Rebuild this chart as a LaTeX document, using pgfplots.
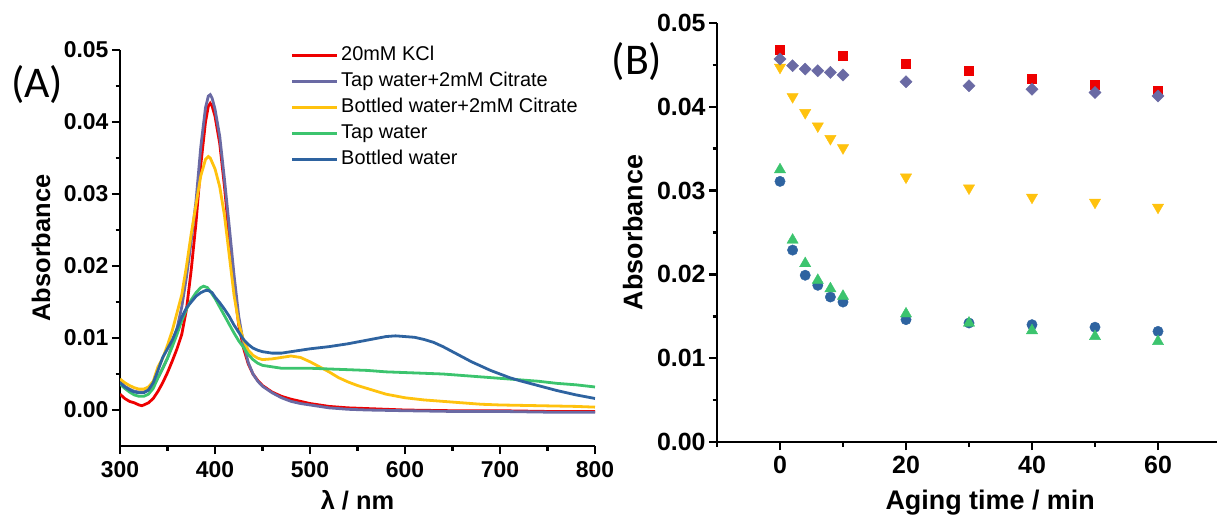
\documentclass[border=0pt]{standalone}
\usepackage{fontspec}
\setmainfont{Liberation Sans}
\newfontfamily\carlito{Carlito}
\usepackage{pgfplots}
\pgfplotsset{compat=1.18}
\definecolor{cred}{HTML}{EE0000}
\definecolor{cpurple}{HTML}{6A6AA4}
\definecolor{cyellow}{HTML}{FFC20E}
\definecolor{cgreen}{HTML}{3CC46E}
\definecolor{cblue}{HTML}{2E63A0}
\pgfplotsset{mystyle/.style={
  scale only axis,
  axis x line=bottom, axis y line=left,
  axis line style={-, line width=2.5bp, black},
  every outer x axis line/.append style={-},
  every outer y axis line/.append style={-},
  tick align=outside,
  major tick length=8bp, minor tick length=4.5bp,
  tick style={black, line width=2.5bp},
  /pgf/number format/assume math mode=true,
  scaled y ticks=false,
  yticklabel style={/pgf/number format/.cd, fixed, fixed zerofill, precision=2},
  ytick={0,0.01,0.02,0.03,0.04,0.05},
  minor y tick num=1,
}}
\begin{document}
\begin{tikzpicture}
\useasboundingbox (0,0) rectangle (1217bp,-515bp);
\begin{axis}[mystyle, at={(120bp,-446bp)}, anchor=south west,
  width=475bp, height=396bp,
  tick label style={font=\fontsize{23}{25}\selectfont\bfseries},
  xticklabel style={yshift=-4bp},
  label style={font=\fontsize{25.5}{28}\selectfont\bfseries},
  xmin=300, xmax=800, ymin=-0.005, ymax=0.05,
  xtick={300,400,500,600,700,800}, minor x tick num=1,
  xlabel={λ / nm}, ylabel={Absorbance},
  xlabel style={at={(axis description cs:0.5,-0.136)}, anchor=center},
  ylabel style={at={(axis description cs:-0.166,0.5)}, anchor=center},
  legend cell align=left,
  legend style={draw=none, fill=none, at={(axis description cs:0.359,1.019)}, anchor=north west,
    font=\fontsize{20}{24}\selectfont, inner sep=0pt,
    nodes={text height=15.5bp, text depth=5.5bp, inner sep=2.5bp}},
  legend image code/.code={\draw[#1, line width=3bp] (0bp,0bp) -- (45bp,0bp);},
  every axis plot/.append style={line width=2.8bp},
]
\addplot[cred] coordinates {
(300,0.0022)(305,0.0016)(310,0.0012)(315,0.0010)(320,0.0007)(323,0.0006)(325,0.0007)(330,0.0010)(335,0.0016)(340,0.0026)(345,0.0038)(350,0.0052)(355,0.0068)(360,0.0085)(365,0.0105)(370,0.0140)(375,0.0195)(380,0.0260)(385,0.0340)(390,0.0400)(393,0.0422)(395,0.0426)(397,0.0422)(400,0.0408)(405,0.0370)(410,0.0310)(415,0.0240)(420,0.0170)(425,0.0118)(430,0.0086)(435,0.0064)(440,0.0050)(445,0.0041)(450,0.0034)(460,0.0025)(470,0.0019)(480,0.0015)(490,0.0012)(500,0.0009)(520,0.0005)(540,0.0003)(560,0.0002)(600,0.0000)(650,-0.0001)(700,-0.0001)(750,-0.0002)(800,-0.0002)};
\addlegendentry{20mM KCl}
\addplot[cpurple] coordinates {
(300,0.0039)(305,0.0033)(310,0.0029)(315,0.0026)(320,0.0025)(325,0.0025)(330,0.0027)(335,0.0033)(340,0.0045)(345,0.0058)(350,0.0072)(355,0.0090)(360,0.0113)(365,0.0143)(370,0.0185)(375,0.0235)(380,0.0290)(385,0.0365)(390,0.0420)(393,0.0436)(395,0.0438)(397,0.0433)(400,0.0418)(405,0.0380)(410,0.0320)(415,0.0255)(420,0.0188)(425,0.0130)(430,0.0092)(435,0.0066)(440,0.0050)(445,0.0040)(450,0.0033)(460,0.0024)(470,0.0017)(480,0.0012)(490,0.0009)(500,0.0007)(520,0.0003)(540,0.0001)(560,0.0000)(600,-0.0001)(650,-0.0002)(700,-0.0002)(750,-0.0003)(800,-0.0003)};
\addlegendentry{Tap water+2mM Citrate}
\addplot[cyellow] coordinates {
(300,0.0043)(305,0.0038)(310,0.0034)(315,0.0031)(320,0.0029)(325,0.0029)(330,0.0032)(335,0.0040)(340,0.0060)(345,0.0072)(350,0.0090)(355,0.0110)(360,0.0135)(365,0.0160)(370,0.0200)(375,0.0245)(380,0.0285)(385,0.0325)(390,0.0348)(393,0.0352)(395,0.0350)(400,0.0335)(405,0.0310)(410,0.0270)(415,0.0215)(420,0.0160)(425,0.0120)(430,0.0097)(435,0.0083)(440,0.0076)(445,0.0072)(450,0.0070)(460,0.0071)(470,0.0073)(480,0.0075)(490,0.0073)(500,0.0067)(510,0.0060)(520,0.0053)(530,0.0045)(540,0.0039)(550,0.0034)(560,0.0030)(580,0.0022)(600,0.0017)(620,0.0014)(640,0.0012)(660,0.0010)(680,0.0008)(700,0.0007)(740,0.0006)(780,0.0005)(800,0.0004)};
\addlegendentry{Bottled water+2mM Citrate}
\addplot[cgreen] coordinates {
(300,0.0036)(305,0.0030)(310,0.0025)(315,0.0021)(320,0.0019)(325,0.0019)(330,0.0022)(335,0.0030)(340,0.0045)(345,0.0058)(350,0.0072)(355,0.0088)(360,0.0105)(365,0.0124)(370,0.0140)(375,0.0153)(380,0.0163)(385,0.0170)(388,0.0172)(392,0.0170)(395,0.0165)(400,0.0155)(405,0.0143)(410,0.0131)(415,0.0119)(420,0.0107)(425,0.0096)(430,0.0087)(435,0.0077)(440,0.0070)(445,0.0065)(450,0.0062)(460,0.0060)(470,0.0058)(480,0.0058)(500,0.0058)(520,0.0057)(540,0.0056)(560,0.0055)(580,0.0053)(600,0.0052)(620,0.0051)(640,0.0050)(660,0.0048)(680,0.0046)(700,0.0044)(720,0.0042)(740,0.0040)(760,0.0037)(780,0.0035)(800,0.0032)};
\addlegendentry{Tap water}
\addplot[cblue] coordinates {
(300,0.0038)(305,0.0032)(310,0.0028)(315,0.0025)(320,0.0024)(325,0.0024)(330,0.0028)(335,0.0038)(340,0.0055)(345,0.0073)(350,0.0085)(355,0.0097)(360,0.0113)(365,0.0129)(370,0.0142)(375,0.0150)(380,0.0158)(385,0.0163)(390,0.0166)(393,0.0166)(397,0.0163)(400,0.0157)(405,0.0149)(410,0.0140)(415,0.0130)(420,0.0118)(425,0.0108)(430,0.0098)(435,0.0091)(440,0.0086)(445,0.0083)(450,0.0081)(460,0.0079)(470,0.0079)(480,0.0081)(490,0.0083)(500,0.0085)(520,0.0088)(540,0.0092)(560,0.0097)(580,0.0102)(590,0.0103)(600,0.0102)(610,0.0101)(620,0.0098)(630,0.0094)(640,0.0088)(650,0.0081)(660,0.0074)(670,0.0067)(680,0.0061)(690,0.0055)(700,0.0050)(710,0.0045)(720,0.0041)(740,0.0034)(760,0.0027)(780,0.0021)(800,0.0016)};
\addlegendentry{Bottled water}
\end{axis}
\node[font=\carlito\fontsize{44}{50}\selectfont] at (37bp,-85bp) {(A)};
\begin{axis}[mystyle, at={(717bp,-442bp)}, anchor=south west,
  width=504bp, height=419bp,
  tick label style={font=\fontsize{25}{27}\selectfont\bfseries},
  xticklabel style={yshift=-3bp},
  label style={font=\fontsize{27}{30}\selectfont\bfseries},
  xmin=-10, xmax=70, ymin=0, ymax=0.05,
  xtick={0,20,40,60}, minor xtick={-10,10,30,50,70},
  xlabel={Aging time / min}, ylabel={Absorbance},
  xlabel style={at={(axis description cs:0.542,-0.144)}, anchor=center},
  ylabel style={at={(axis description cs:-0.167,0.5)}, anchor=center},
  clip=false,
]
\addplot[only marks, mark=square*, mark size=4.5bp, color=cred] coordinates {
(0,0.0468)(10,0.0461)(20,0.0452)(30,0.0443)(40,0.0434)(50,0.0426)(60,0.0419)};
\addplot[only marks, mark=triangle*, mark size=6.5bp, mark options={rotate=180}, color=cyellow] coordinates {
(0,0.0447)(2,0.0412)(4,0.0393)(6,0.0377)(8,0.0362)(10,0.0351)(20,0.0316)(30,0.0303)(40,0.0292)(50,0.0286)(60,0.0280)};
\addplot[only marks, mark=square*, mark size=4.3bp, mark options={rotate=45}, color=cpurple] coordinates {
(0,0.0457)(2,0.0449)(4,0.0445)(6,0.0443)(8,0.0441)(10,0.0438)(20,0.0430)(30,0.0425)(40,0.0421)(50,0.0417)(60,0.0413)};
\addplot[only marks, mark=*, mark size=5.2bp, color=cblue] coordinates {
(0,0.0311)(2,0.0229)(4,0.0199)(6,0.0187)(8,0.0173)(10,0.0167)(20,0.0146)(30,0.0142)(40,0.0140)(50,0.0137)(60,0.0132)};
\addplot[only marks, mark=triangle*, mark size=6.5bp, color=cgreen] coordinates {
(0,0.0325)(2,0.0241)(4,0.0213)(6,0.0193)(8,0.0183)(10,0.0174)(20,0.0153)(30,0.0142)(40,0.0133)(50,0.0126)(60,0.0120)};
\end{axis}
\node[font=\carlito\fontsize{44}{50}\selectfont] at (637bp,-62bp) {(B)};
\end{tikzpicture}
\end{document}
